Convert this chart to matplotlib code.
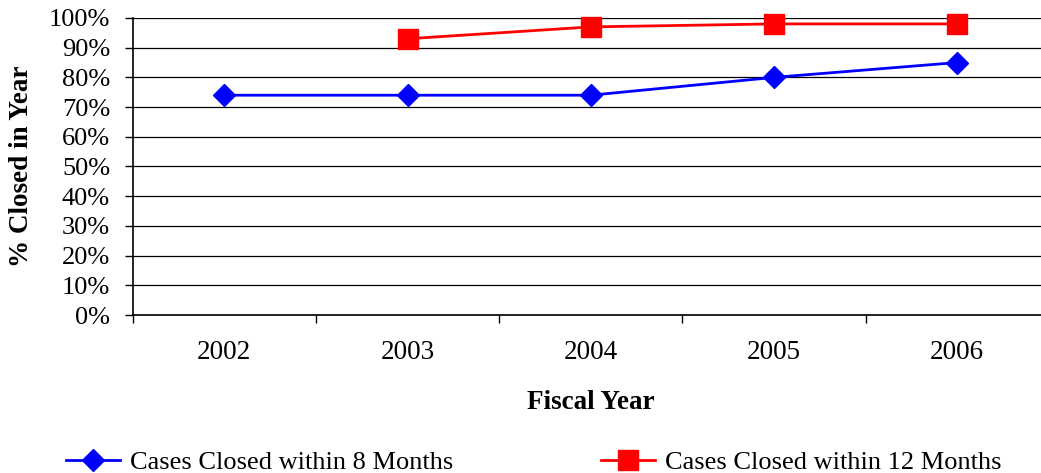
import numpy as np
import matplotlib
matplotlib.use("Agg")
import matplotlib.pyplot as plt
from matplotlib.ticker import FixedLocator, PercentFormatter

plt.rcParams['font.family'] = ['Liberation Serif', 'DejaVu Serif']

years = ['2002', '2003', '2004', '2005', '2006']
closed_8_months = [74, 74, 74, 80, 85]
closed_12_months = [np.nan, 93, 97, 98, 98]

fig = plt.figure(figsize=(10.41, 4.73), dpi=100)
ax = fig.add_axes([0.1275, 0.334, 0.88, 0.628])

x = np.arange(len(years))
ax.plot(x, closed_8_months, color='#0000ff', lw=2, marker='D', ms=11,
        label='Cases Closed within 8 Months', clip_on=False)
ax.plot(x, closed_12_months, color='#ff0000', lw=2, marker='s', ms=14.5,
        label='Cases Closed within 12 Months', clip_on=False)

ax.set_xlim(-0.5, len(years) - 0.5)
ax.set_ylim(0, 100)
ax.set_yticks(np.arange(0, 101, 10))
ax.yaxis.set_major_formatter(PercentFormatter(decimals=0))
ax.grid(axis='y', color='black', lw=0.9)
ax.set_axisbelow(True)

# category labels centred, tick marks between categories
ax.set_xticks(x)
ax.set_xticklabels(years)
ax.xaxis.set_minor_locator(FixedLocator(np.arange(-0.5, len(years), 1)))
ax.tick_params(axis='x', which='major', length=0, pad=18, labelsize=19.5)
ax.tick_params(axis='x', which='minor', length=5.8, width=1, direction='out')
ax.tick_params(axis='y', length=5.8, width=1, labelsize=19, pad=10.5)

for side in ['top', 'right']:
    ax.spines[side].set_visible(False)
ax.spines['left'].set_linewidth(1.2)
ax.spines['bottom'].set_linewidth(1.2)

ax.set_xlabel('Fiscal Year', fontsize=19.5, fontweight='bold')
ax.set_ylabel('% Closed in Year', fontsize=19.5, fontweight='bold')
ax.xaxis.set_label_coords(0.5, -0.252)
ax.yaxis.set_label_coords(-0.1075, 0.5)

fig.legend(loc='center', bbox_to_anchor=(0.513, 11 / 473), ncol=2,
           frameon=False, fontsize=19, columnspacing=5.6, handlelength=2.05,
           handletextpad=0.38)

fig.savefig('out.png', dpi=100)
